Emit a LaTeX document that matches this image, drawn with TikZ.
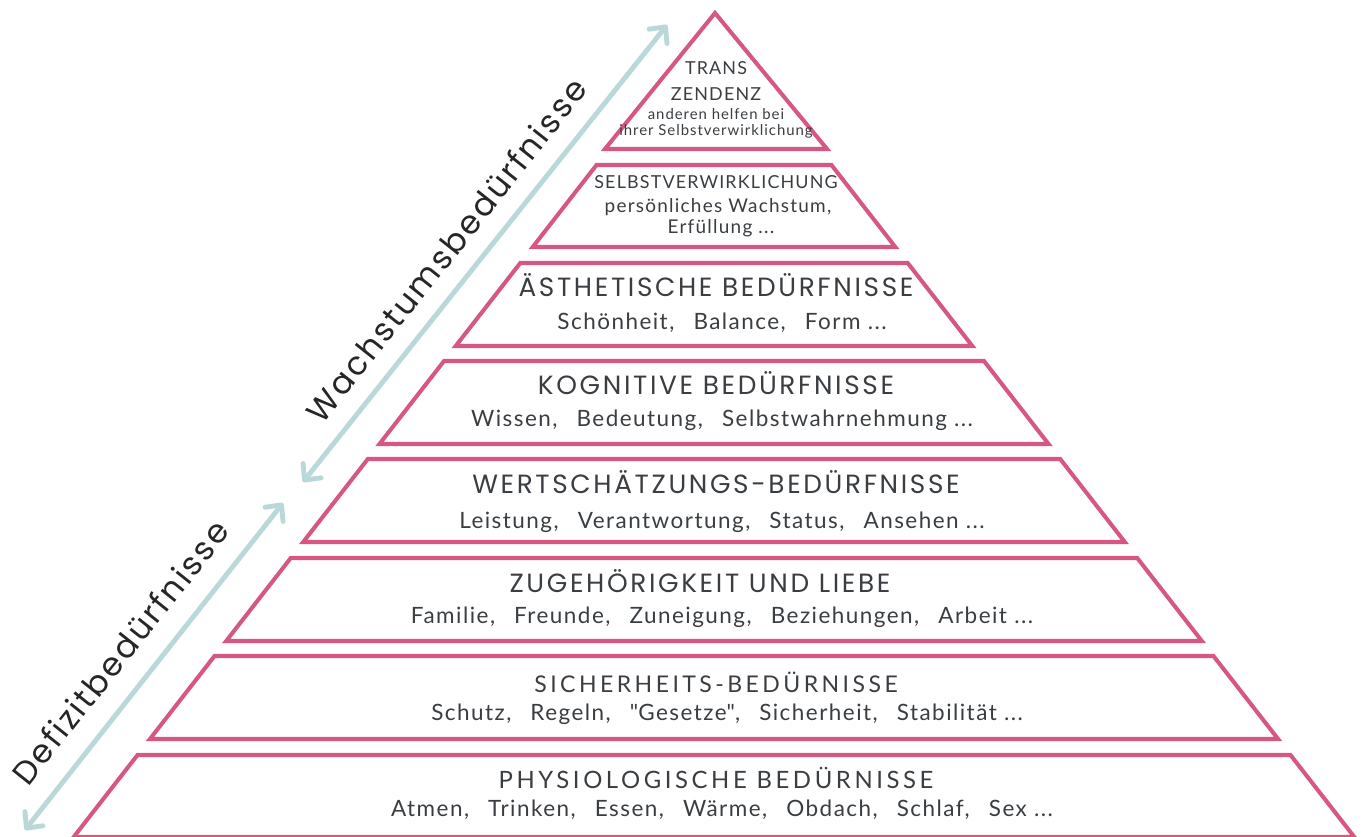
\documentclass[tikz,border=0pt]{standalone}
\usepackage{fontspec}
\setmainfont{Lato}[LetterSpace=6.5]
\newfontfamily\headfont{Poppins}[LetterSpace=10]
\newfontfamily\capsfont{Lato}[LetterSpace=15]
\newfontfamily\arrowfont{Poppins}[LetterSpace=7]
\usetikzlibrary{arrows.meta,positioning}

\definecolor{pyrpink}{RGB}{214,88,128}
\definecolor{arrowblue}{RGB}{186,216,218}
\definecolor{textgray}{RGB}{58,62,66}

\newcommand{\sep}{\hspace{0.85em}}

\begin{document}
\begin{tikzpicture}[x=0.02cm, y=-0.02cm,
    layer/.style = {draw=pyrpink, line width=2.3pt},
    growth/.style = {draw=arrowblue, line width=2.8pt,
        {Straight Barb[round,length=2.4mm,width=4.6mm]}-{Straight Barb[round,length=2.4mm,width=4.6mm]}},
    side/.style = {text=black!85, font=\arrowfont\fontsize{18.5}{20}\selectfont, inner sep=0pt, rotate=51.5},
    head/.style = {text=textgray, font=\headfont\fontsize{15}{18}\selectfont, anchor=base, inner sep=0pt},
    lowhead/.style = {text=textgray, font=\capsfont\fontsize{13.1}{15}\selectfont, anchor=base, inner sep=0pt},
    sub/.style = {text=textgray, font=\fontsize{12.8}{15}\selectfont, anchor=base, inner sep=0pt},
    tiny/.style = {text=textgray, font=\fontsize{8.5}{10}\selectfont, anchor=base, inner sep=0pt}]

    \useasboundingbox (0,0) rectangle (1365,837);

    % pyramid
    \draw[layer] (715,13) -- (827,149) -- (605,149) -- cycle;
    \foreach \t/\b in {165/247, 263/346, 361/444, 459/542, 558/641, 656/739, 755/837} {
        \pgfmathsetmacro{\wt}{0.778*(\t-14)}
        \pgfmathsetmacro{\wb}{0.778*(\b-14)}
        \draw[layer] (714-\wt,\t) -- (714+\wt,\t) -- (714+\wb,\b) -- (714-\wb,\b) -- cycle;
    }

    % side arrows
    \coordinate (wlow) at (303,482);
    \coordinate (whigh) at (667,25);
    \coordinate (dlow) at (25,830);
    \coordinate (dhigh) at (283,503);
    \draw[growth] (wlow) -- (whigh);
    \draw[growth] (dlow) -- (dhigh);
    \node[side] (wachs) at (446,250) {Wachstumsbedürfnisse};
    \node[side] (defizit) at (120,652) {Defizitbedürfnisse};

    % texts
    \node[sub, font=\fontsize{10.2}{12}\selectfont] (trans) at (716,75) {TRANS};
    \node[sub, font=\fontsize{10.2}{12}\selectfont] (zendenz) at (716,101) {ZENDENZ};
    \node[tiny] (transa) at (716,120) {anderen helfen bei};
    \node[tiny] (transb) at (716,136) {ihrer Selbstverwirklichung};

    \node[sub, font=\fontsize{10.2}{12}\selectfont] (selbst) at (716,189) {SELBSTVERWIRKLICHUNG};
    \node[sub, font=\fontsize{10.8}{12}\selectfont] (selbsta) at (718,213) {persönliches Wachstum,};
    \node[sub, font=\fontsize{10.8}{12}\selectfont] (selbstb) at (721,234) {Erfüllung ...};

    \node[head] (aesth) at (716,297) {ÄSTHETISCHE BEDÜRFNISSE};
    \node[sub] (aesthsub) at (722,330) {Schönheit,\sep Balance,\sep Form ...};

    \node[head] (kogn) at (716,395) {KOGNITIVE BEDÜRFNISSE};
    \node[sub] (kognsub) at (722,427) {Wissen,\sep Bedeutung,\sep Selbstwahrnehmung ...};

    \node[head] (wert) at (716,493) {WERTSCHÄTZUNGS-BEDÜRFNISSE};
    \node[sub] (wertsub) at (722,528) {Leistung,\sep Verantwortung,\sep Status,\sep Ansehen ...};

    \node[head] (zug) at (700,592) {ZUGEHÖRIGKEIT UND LIEBE};
    \node[sub] (zugsub) at (722,623) {Familie,\sep Freunde,\sep Zuneigung,\sep Beziehungen,\sep Arbeit ...};

    \node[lowhead] (sich) at (716,692) {SICHERHEITS-BEDÜRNISSE};
    \node[sub] (sichsub) at (727,720) {Schutz,\sep Regeln,\sep \textquotedbl Gesetze\textquotedbl,\sep Sicherheit,\sep Stabilität ...};

    \node[lowhead, font=\capsfont\fontsize{13.6}{16}\selectfont] (phys) at (716,788) {PHYSIOLOGISCHE BEDÜRNISSE};
    \node[sub] (physsub) at (722,816) {Atmen,\sep Trinken,\sep Essen,\sep Wärme,\sep Obdach,\sep Schlaf,\sep Sex ...};
\end{tikzpicture}
\end{document}
